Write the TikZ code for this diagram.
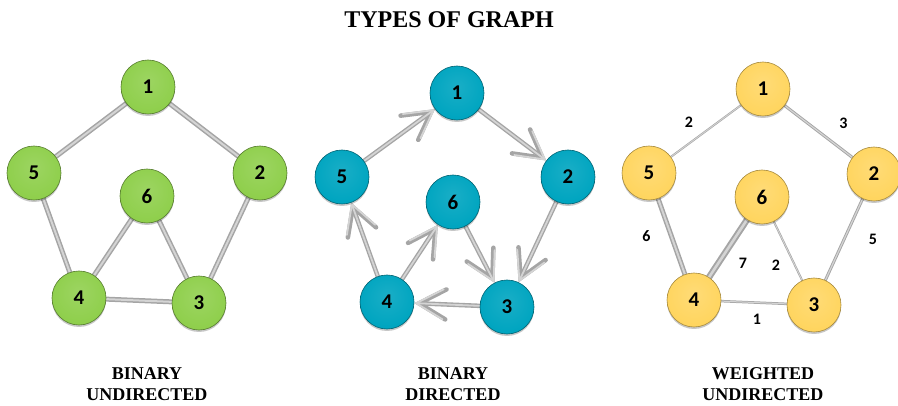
\documentclass[tikz,border=0pt]{standalone}
\usepackage{fontspec}
\setmainfont{Liberation Serif}
\newfontfamily\numfont{Carlito}
\usetikzlibrary{arrows.meta,shadows,backgrounds}
\definecolor{gG}{RGB}{143,207,76}
\definecolor{gB}{RGB}{0,165,192}
\definecolor{gY}{RGB}{255,213,95}
\definecolor{edgeC}{RGB}{165,165,165}
\definecolor{edgeH}{RGB}{212,212,212}
\pgfdeclareradialshading{ballG}{\pgfpoint{0bp}{6bp}}{color(0bp)=(gG!88!white); color(26bp)=(gG); color(38bp)=(gG!95!black); color(44bp)=(gG!80!black); color(48bp)=(gG!65!black); color(55bp)=(gG!55!black)}
\pgfdeclareradialshading{ballB}{\pgfpoint{0bp}{6bp}}{color(0bp)=(gB!90!white); color(26bp)=(gB); color(38bp)=(gB!95!black); color(44bp)=(gB!80!black); color(48bp)=(gB!65!black); color(55bp)=(gB!55!black)}
\pgfdeclareradialshading{ballY}{\pgfpoint{0bp}{6bp}}{color(0bp)=(gY!85!white); color(26bp)=(gY); color(38bp)=(gY!96!black); color(44bp)=(gY!84!black); color(48bp)=(gY!70!black); color(55bp)=(gY!60!black)}
\tikzset{
  vtx/.style={circle, minimum size=54pt, inner sep=0pt, shade, shading=#1,
    font=\numfont\bfseries\fontsize{21}{21}\selectfont,
    drop shadow={shadow xshift=0pt, shadow yshift=-2pt, opacity=0.22, fill=black}},
  vG/.style={vtx=ballG, draw=gG!60!black, line width=0.6pt},
  vB/.style={vtx=ballB, draw=gB!60!black, line width=0.6pt},
  vY/.style={vtx=ballY, draw=gY!65!black, line width=0.6pt},
  edg/.style={draw=edgeC, line width=#1, line cap=round,
    postaction={draw=edgeH, line width=0.4*#1}},
  arr/.style={draw=edgeC, line width=4.5pt, line cap=round,
    -{Straight Barb[length=27pt,width=30pt,line cap=round]},
    postaction={draw=edgeH, line width=1.8pt, -{Straight Barb[length=27pt,width=30pt,line cap=round]}}},
  wlab/.style={font=\numfont\bfseries\fontsize{16}{16}\selectfont, inner sep=0pt},
  gcaption/.style={font=\bfseries\fontsize{18}{21}\selectfont, align=center},
}
\begin{document}
\begin{tikzpicture}[x=1pt,y=-1pt]
\useasboundingbox (0,0) rectangle (898,406);
\node[font=\bfseries\fontsize{24}{24}\selectfont] (title) at (449,20) {TYPES OF GRAPH};

% graph 1
\node[vG] (a1) at (148,87) {1};
\node[vG] (a2) at (260,173) {2};
\node[vG] (a3) at (199,303) {3};
\node[vG] (a4) at (79,298) {4};
\node[vG] (a5) at (34,173) {5};
\node[vG] (a6) at (147,196) {6};
\begin{scope}[on background layer]
\draw[edg=5pt] (a1) -- (a2);
\draw[edg=5pt] (a1) -- (a5);
\draw[edg=5pt] (a5) -- (a4);
\draw[edg=5pt] (a2) -- (a3);
\draw[edg=5pt] (a4) -- (a3);
\draw[edg=5pt] (a6) -- (a4);
\draw[edg=5pt] (a6) -- (a3);
\end{scope}
\node[gcaption] (capa) at (147,384) {BINARY\\UNDIRECTED};

% graph 2
\node[vB] (b1) at (457,93) {1};
\node[vB] (b2) at (568,177) {2};
\node[vB] (b3) at (507,307) {3};
\node[vB] (b4) at (387,302) {4};
\node[vB] (b5) at (342,177) {5};
\node[vB] (b6) at (453,202) {6};
\begin{scope}[on background layer]
\draw[arr] (b5) -- (b1);
\draw[arr] (b1) -- (b2);
\draw[arr] (b2) -- (b3);
\draw[arr] (b3) -- (b4);
\draw[arr] (b4) -- (b5);
\draw[arr] (b4) -- (b6);
\draw[arr] (b6) -- (b3);
\end{scope}
\node[gcaption] (capb) at (453,384) {BINARY\\DIRECTED};

% graph 3
\node[vY] (c1) at (763,89) {1};
\node[vY] (c2) at (874,174) {2};
\node[vY] (c3) at (814,305) {3};
\node[vY] (c4) at (694,300) {4};
\node[vY] (c5) at (649,173) {5};
\node[vY] (c6) at (762,197) {6};
\begin{scope}[on background layer]
\draw[edg=2pt] (c1) -- node[wlab, xshift=-17pt, yshift=9pt] (w15) {2} (c5);
\draw[edg=3pt] (c1) -- node[wlab, xshift=25pt, yshift=8pt] (w12) {3} (c2);
\draw[edg=5pt] (c5) -- node[wlab, xshift=-25pt, yshift=0pt] (w54) {6} (c4);
\draw[edg=6.5pt] (c6) -- node[wlab, xshift=15pt, yshift=-15pt] (w64) {7} (c4);
\draw[edg=2pt] (c6) -- node[wlab, xshift=-12pt, yshift=-14pt] (w63) {2} (c3);
\draw[edg=3pt] (c2) -- node[wlab, xshift=29pt, yshift=0pt] (w23) {5} (c3);
\draw[edg=2.5pt] (c4) -- node[wlab, xshift=3pt, yshift=-17pt] (w43) {1} (c3);
\end{scope}
\node[gcaption] (capc) at (763,384) {WEIGHTED\\UNDIRECTED};
\end{tikzpicture}
\end{document}
